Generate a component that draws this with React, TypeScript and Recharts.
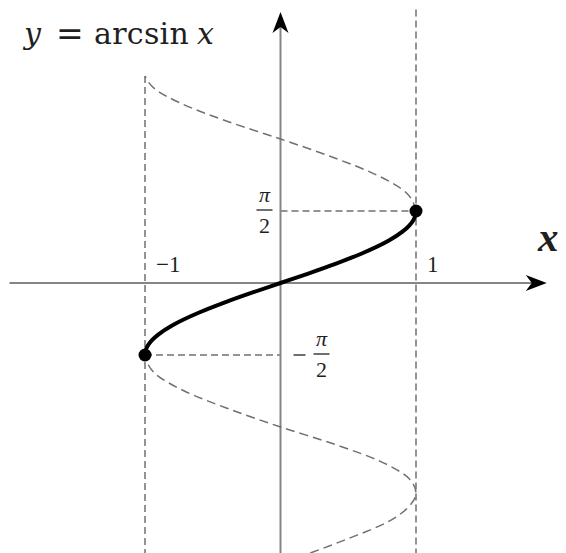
import React from 'react';
import { ComposedChart, Line, XAxis, YAxis, ReferenceLine, ReferenceDot } from 'recharts';

// x is the argument, y is measured in units of π/2
const arcsinPts = [
  { x: -1, y: -1 },
  { x: -0.995, y: -0.936 },
  { x: -0.98, y: -0.873 },
  { x: -0.95, y: -0.798 },
  { x: -0.9, y: -0.713 },
  { x: -0.8, y: -0.59 },
  { x: -0.6, y: -0.41 },
  { x: -0.4, y: -0.262 },
  { x: -0.2, y: -0.128 },
  { x: 0, y: 0 },
  { x: 0.2, y: 0.128 },
  { x: 0.4, y: 0.262 },
  { x: 0.6, y: 0.41 },
  { x: 0.8, y: 0.59 },
  { x: 0.9, y: 0.713 },
  { x: 0.95, y: 0.798 },
  { x: 0.98, y: 0.873 },
  { x: 0.995, y: 0.936 },
  { x: 1, y: 1 },
];

const upperSinPts = [
  { x: 1, y: 1 },
  { x: 0.93, y: 1.25 },
  { x: 0.71, y: 1.5 },
  { x: 0.38, y: 1.75 },
  { x: 0, y: 2 },
  { x: -0.4, y: 2.25 },
  { x: -0.74, y: 2.5 },
  { x: -0.93, y: 2.7 },
  { x: -1, y: 2.875 },
];

const lowerSinPts = [
  { x: 0.22, y: -3.75 },
  { x: 0.5, y: -3.55 },
  { x: 0.79, y: -3.32 },
  { x: 0.95, y: -3.1 },
  { x: 1, y: -2.92 },
  { x: 0.95, y: -2.72 },
  { x: 0.74, y: -2.48 },
  { x: 0.4, y: -2.24 },
  { x: 0, y: -2 },
  { x: -0.38, y: -1.75 },
  { x: -0.71, y: -1.5 },
  { x: -0.93, y: -1.25 },
  { x: -1, y: -1 },
];

const endPoints = [
  { x: -1, y: -1 },
  { x: 1, y: 1 },
];

const xTickLabels = [
  { value: -1, label: '−1' },
  { value: 1, label: '1' },
];

const yTickLabels = [
  { value: 1, sign: '' },
  { value: -1, sign: '−' },
];

const X_MIN = -2;
const X_MAX = 2;
const Y_MIN = -3.75;
const Y_MAX = 3.8;

const GRAY = '#707070';
const AXIS = '#858585';
const TEXT = '#1f1f1f';
const tickFont = '"Liberation Serif", "Times New Roman", serif';

const ArrowUp = (props: any) => {
  const { cx, cy } = props;
  return (
    <path
      d={`M${cx},${cy} L${cx + 8},${cy + 21} L${cx},${cy + 15} L${cx - 8},${cy + 21} Z`}
      fill="#000"
    />
  );
};

const ArrowRight = (props: any) => {
  const { cx, cy } = props;
  return (
    <path
      d={`M${cx},${cy} L${cx - 21},${cy - 8} L${cx - 15},${cy} L${cx - 21},${cy + 8} Z`}
      fill="#000"
    />
  );
};

const xTickShape = (label: string, neg: boolean) => (props: any) => {
  const { cx, cy } = props;
  return (
    <text
      x={neg ? cx + 11 : cx + 11}
      y={cy - 11}
      fontFamily={tickFont}
      fontSize={23}
      fill={TEXT}
    >
      {label}
    </text>
  );
};

const fractionShape = (sign: string) => (props: any) => {
  const { cx, cy } = props;
  const mid = sign ? cx + 41 : cx - 16;
  return (
    <g fill={TEXT} fontFamily={tickFont}>
      {sign && (
        <line x1={mid - 28} x2={mid - 16} y1={cy} y2={cy} stroke={TEXT} strokeWidth={1.3} />
      )}
      <text x={mid} y={cy - 9} fontSize={22} fontStyle="italic" textAnchor="middle">
        π
      </text>
      <line x1={mid - 8} x2={mid + 8} y1={cy - 1} y2={cy - 1} stroke={TEXT} strokeWidth={1.3} />
      <text x={mid} y={cy + 22} fontSize={22} textAnchor="middle">
        2
      </text>
    </g>
  );
};

export default function App() {
  return (
    <div style={{ position: 'absolute', left: 0, top: 0, width: 566, height: 553, background: '#fff' }}>
      <ComposedChart
        width={566}
        height={553}
        margin={{ top: 9.4, right: 14.5, bottom: 0, left: 9.5 }}
      >
        <XAxis type="number" dataKey="x" domain={[X_MIN, X_MAX]} allowDataOverflow hide />
        <YAxis type="number" dataKey="y" domain={[Y_MIN, Y_MAX]} allowDataOverflow hide />

        {/* guides */}
        <ReferenceLine
          segment={[{ x: endPoints[1].x, y: Y_MAX }, { x: endPoints[1].x, y: Y_MIN }]}
          stroke={GRAY}
          strokeWidth={1.5}
          strokeDasharray="7 4"
          ifOverflow="visible"
        />
        <ReferenceLine
          segment={[
            { x: endPoints[0].x, y: upperSinPts[upperSinPts.length - 1].y },
            { x: endPoints[0].x, y: Y_MIN },
          ]}
          stroke={GRAY}
          strokeWidth={1.5}
          strokeDasharray="7 4"
          ifOverflow="visible"
        />
        <ReferenceLine
          segment={[{ x: 0, y: endPoints[1].y }, { x: endPoints[1].x, y: endPoints[1].y }]}
          stroke={GRAY}
          strokeWidth={1.5}
          strokeDasharray="7 4"
        />
        <ReferenceLine
          segment={[{ x: endPoints[0].x, y: endPoints[0].y }, { x: 0, y: endPoints[0].y }]}
          stroke={GRAY}
          strokeWidth={1.5}
          strokeDasharray="7 4"
        />

        {/* axes */}
        <ReferenceLine
          segment={[{ x: X_MIN, y: 0 }, { x: 1.93, y: 0 }]}
          stroke={AXIS}
          strokeWidth={2}
          ifOverflow="visible"
        />
        <ReferenceLine
          segment={[{ x: 0, y: Y_MIN }, { x: 0, y: 3.7 }]}
          stroke={AXIS}
          strokeWidth={2}
          ifOverflow="visible"
        />

        <Line
          data={upperSinPts}
          dataKey="y"
          type="monotoneY"
          stroke={GRAY}
          strokeWidth={1.5}
          strokeDasharray="9 5"
          dot={false}
          activeDot={false}
          isAnimationActive={false}
        />
        <Line
          data={lowerSinPts}
          dataKey="y"
          type="monotoneY"
          stroke={GRAY}
          strokeWidth={1.5}
          strokeDasharray="9 5"
          dot={false}
          activeDot={false}
          isAnimationActive={false}
        />
        <Line
          data={arcsinPts}
          dataKey="y"
          type="monotoneY"
          stroke="#000"
          strokeWidth={4}
          dot={false}
          activeDot={false}
          isAnimationActive={false}
        />

        {endPoints.map((p, i) => (
          <ReferenceDot key={`end-${i}`} x={p.x} y={p.y} r={6.5} fill="#000" stroke="none" />
        ))}

        <ReferenceDot x={0} y={3.765} ifOverflow="visible" shape={ArrowUp} />
        <ReferenceDot x={1.965} y={0} ifOverflow="visible" shape={ArrowRight} />

        {xTickLabels.map((t) => (
          <ReferenceDot key={`xt-${t.value}`} x={t.value} y={0} shape={xTickShape(t.label, t.value < 0)} />
        ))}
        {yTickLabels.map((t) => (
          <ReferenceDot key={`yt-${t.value}`} x={0} y={t.value} shape={fractionShape(t.sign)} />
        ))}
      </ComposedChart>

      <div
        style={{
          position: 'absolute',
          left: 0,
          top: 0,
          width: 566,
          height: 60,
          color: TEXT,
          fontFamily: '"DejaVu Serif", serif',
          fontSize: 30,
          lineHeight: 1,
          pointerEvents: 'none',
        }}
      >
        <span style={{ position: 'absolute', left: 24, top: 19, fontStyle: 'italic' }}>y</span>
        <span style={{ position: 'absolute', left: 56, top: 17, fontSize: 33 }}>=</span>
        <span style={{ position: 'absolute', left: 94, top: 19, letterSpacing: 0.3 }}>arcsin</span>
        <span style={{ position: 'absolute', left: 197, top: 19, fontStyle: 'italic' }}>x</span>
      </div>
      <div
        style={{
          position: 'absolute',
          left: 538,
          top: 217,
          color: TEXT,
          fontFamily: '"Liberation Serif", serif',
          fontSize: 41,
          fontStyle: 'italic',
          fontWeight: 'bold',
          lineHeight: 1,
        }}
      >
        x
      </div>
    </div>
  );
}
